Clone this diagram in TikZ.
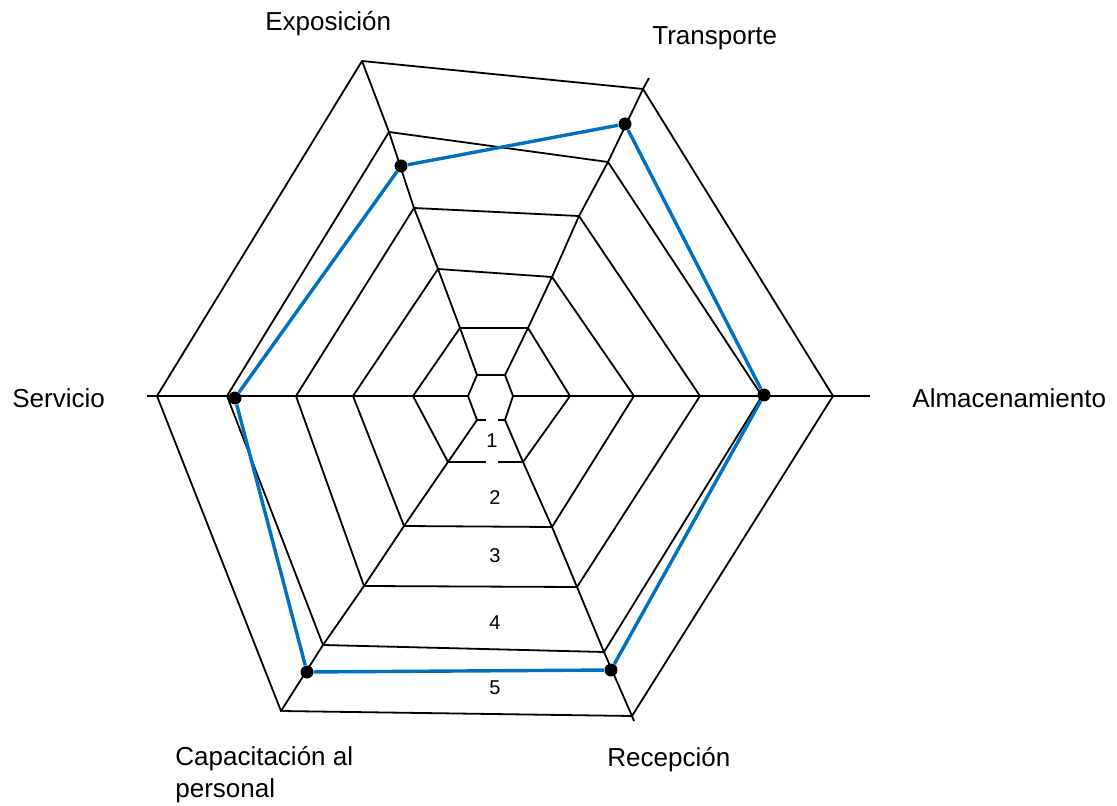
\documentclass[tikz,border=0pt]{standalone}
\usepackage{fontspec}
\setmainfont{Liberation Sans}
\usepackage{tikz}

\definecolor{serieblue}{RGB}{0,112,192}

\begin{document}
\begin{tikzpicture}[x=0.5pt, y=-0.5pt,
            grid/.style={line width=0.9pt},
            serie/.style={serieblue, line width=1.7pt},
            dot/.style={circle, fill=black, inner sep=0pt, minimum size=6.5pt},
            axislabel/.style={anchor=base west, inner sep=0pt, font=\fontsize{13}{16}\selectfont},
            band/.style={inner sep=0pt, font=\fontsize{10}{12}\selectfont}]
            
            \useasboundingbox (0,0) rectangle (1117,806);
            
            % Ring corners
            
            \coordinate (a1) at (513,396); \coordinate (t1) at (505,375); \coordinate (e1) at (477,375);
            \coordinate (s1) at (468,396); \coordinate (c1) at (477,420); \coordinate (r1) at (505,420);
            \coordinate (a2) at (570,396); \coordinate (t2) at (528,328); \coordinate (e2) at (460,328);
            \coordinate (s2) at (413,396); \coordinate (c2) at (448,462); \coordinate (r2) at (523,462);
            \coordinate (a3) at (634,396); \coordinate (t3) at (552,277); \coordinate (e3) at (438,269);
            \coordinate (s3) at (353,396); \coordinate (c3) at (404,526); \coordinate (r3) at (552,527);
            \coordinate (a4) at (700,396); \coordinate (t4) at (579,216); \coordinate (e4) at (414,208);
            \coordinate (s4) at (296,396); \coordinate (c4) at (364,586); \coordinate (r4) at (577,587);
            \coordinate (a5) at (762,396); \coordinate (t5) at (608,162); \coordinate (e5) at (389,132);
            \coordinate (s5) at (227,396); \coordinate (c5) at (323,645); \coordinate (r5) at (604,652);
            \coordinate (a6) at (833,396); \coordinate (t6) at (643,89);  \coordinate (e6) at (362,61);
            \coordinate (s6) at (157,396); \coordinate (c6) at (281,711); \coordinate (r6) at (632,716);
            \coordinate (aend) at (870,396); \coordinate (tend) at (649,78);
            \coordinate (send) at (147,396); \coordinate (rend) at (634,721);
            
            % Rings
            
            \draw[grid] (a1) -- (t1) -- (e1) -- (s1) -- (c1) -- (r1) -- cycle;
            \draw[grid] (a2) -- (t2) -- (e2) -- (s2) -- (c2) -- (r2) -- cycle;
            \draw[grid] (a3) -- (t3) -- (e3) -- (s3) -- (c3) -- (r3) -- cycle;
            \draw[grid] (a4) -- (t4) -- (e4) -- (s4) -- (c4) -- (r4) -- cycle;
            \draw[grid] (a5) -- (t5) -- (e5) -- (s5) -- (c5) -- (r5) -- cycle;
            \draw[grid] (a6) -- (t6) -- (e6) -- (s6) -- (c6) -- (r6) -- cycle;
            
            % Axes
            
            \draw[grid] (a1) -- (a2) -- (a3) -- (a4) -- (a5) -- (a6) -- (aend);
            \draw[grid] (t1) -- (t2) -- (t3) -- (t4) -- (t5) -- (t6) -- (tend);
            \draw[grid] (e1) -- (e2) -- (e3) -- (e4) -- (e5) -- (e6);
            \draw[grid] (s1) -- (s2) -- (s3) -- (s4) -- (s5) -- (s6) -- (send);
            \draw[grid] (c1) -- (c2) -- (c3) -- (c4) -- (c5) -- (c6);
            \draw[grid] (r1) -- (r2) -- (r3) -- (r4) -- (r5) -- (r6) -- (rend);
            
            % Band numbers
            
            \node[band, fill=white, minimum height=23pt] (b1) at (492,441) {1};
            \node[band] (b2) at (495,498) {2};
            \node[band] (b3) at (495,556) {3};
            \node[band] (b4) at (495,623) {4};
            \node[band] (b5) at (495,688) {5};
            
            % Axis labels
            
            \node[axislabel] (lexp) at (265,31) {Exposición};
            \node[axislabel] (ltra) at (652,45) {Transporte};
            \node[axislabel] (lser) at (12,408) {Servicio};
            \node[axislabel] (lalm) at (912,408) {Almacenamiento};
            \node[axislabel] (lrec) at (607,766) {Recepción};
            \node[axislabel, align=left] (lcap) at (175,797) {Capacitación al\\personal};
            
            % Values
            
            \node[dot] (pe) at (401,166) {};
            \node[dot] (pt) at (625,124) {};
            \node[dot] (pa) at (764,395) {};
            \node[dot] (pr) at (611,670) {};
            \node[dot] (pc) at (307,672) {};
            \node[dot] (ps) at (235,398) {};
            
            \draw[serie] (pe) -- (pt);
            \draw[serie] (pt) -- (pa);
            \draw[serie] (pa) -- (pr);
            \draw[serie] (pr) -- (pc);
            \draw[serie] (pc) -- (ps);
            \draw[serie] (ps) -- (pe);
            
\end{tikzpicture}
\end{document}
